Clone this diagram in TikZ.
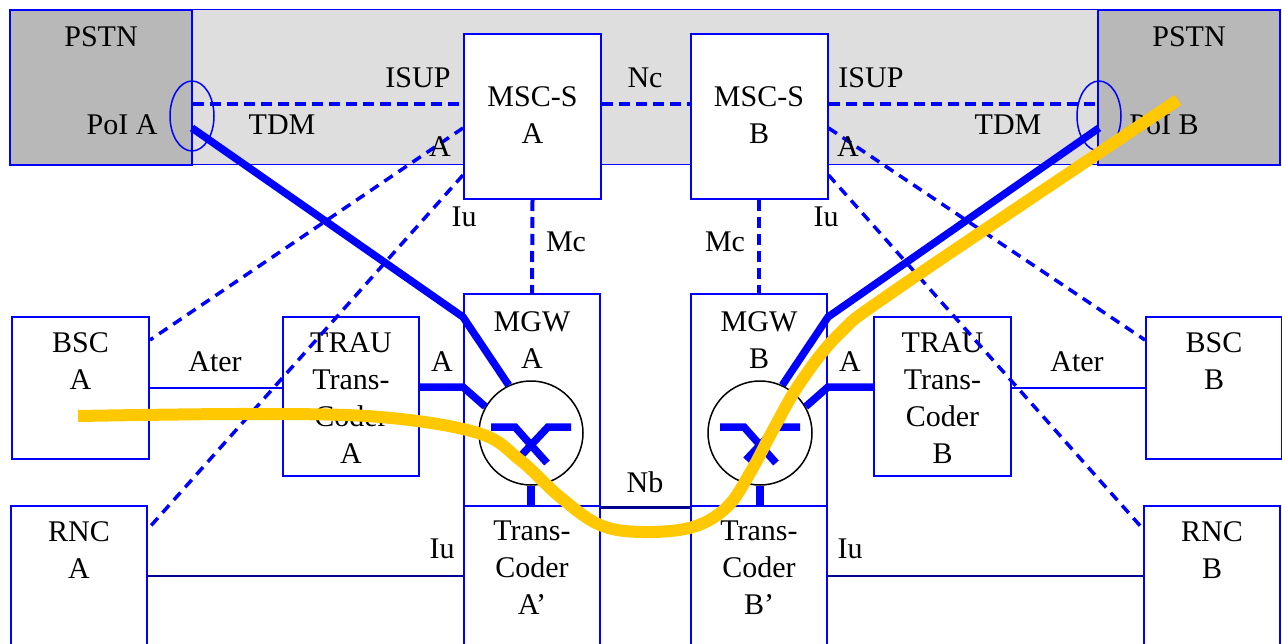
\documentclass[tikz,border=0pt]{standalone}
\usepackage{fontspec}
\setmainfont{Liberation Serif}
\usepackage{tikz}
\usetikzlibrary{shapes,arrows}
\usetikzlibrary{positioning}
\definecolor{calltrace}{RGB}{255,200,0}
\definecolor{darkline}{RGB}{0,0,140}

\begin{document}
\begin{tikzpicture}[x=1pt,y=-1pt,
  box/.style={draw=blue, line width=2pt, fill=white, inner sep=0pt},
  txt/.style={font=\fontsize{30}{37}\selectfont, align=center, inner sep=0pt},
  ctrl/.style={blue, line width=4pt, dash pattern=on 11pt off 6pt},
  ctrlthin/.style={blue, line width=3.5pt, dash pattern=on 10pt off 7pt},
  bus/.style={blue, line width=7.5pt},
  link/.style={blue, line width=2pt},
  trunk/.style={darkline, line width=2.5pt},
  call/.style={calltrace, line width=12pt}]

\useasboundingbox (0,0) rectangle (1282,644);

% core network band and PSTN
\node[draw=blue, line width=1pt, fill=black!13, minimum width=1270, minimum height=155, inner sep=0pt] (core) at (645,87.5) {};
\node[box, fill=black!28, minimum width=182, minimum height=155] (pstnA) at (101,87.5) {};
\node[box, fill=black!28, minimum width=182, minimum height=155] (pstnB) at (1189,87.5) {};
\node[txt, below=17pt of pstnA.north] (pstnAt) {PSTN};
\node[txt, below=17pt of pstnB.north] (pstnBt) {PSTN};
\node[txt, anchor=base] (poiAt) at (122,135) {PoI A};
\node[txt, anchor=base] (poiBt) at (1164,135) {PoI B};
\node[ellipse, draw=blue, line width=1.5pt, minimum width=44, minimum height=70, inner sep=0pt] (poiA) at (192,116) {};
\node[ellipse, draw=blue, line width=1.5pt, minimum width=44, minimum height=70, inner sep=0pt] (poiB) at (1099,116) {};

% servers, gateways and transcoders
\node[box, minimum width=137, minimum height=165] (mscA) at (532.5,116.5) {};
\node[box, minimum width=137, minimum height=165] (mscB) at (759,116.5) {};
\node[box, minimum width=136, minimum height=212] (mgwA) at (532,400) {};
\node[box, minimum width=136, minimum height=212] (mgwB) at (759,400) {};
\node[box, minimum width=136, minimum height=144] (tcA) at (532,578) {};
\node[box, minimum width=136, minimum height=144] (tcB) at (759,578) {};
\node[txt, below=53pt of mscA.north] (mscAt) {MSC-S\\A};
\node[txt, below=53pt of mscB.north] (mscBt) {MSC-S\\B};
\node[txt, below=18pt of mgwA.north] (mgwAt) {MGW\\A};
\node[txt, below=18pt of mgwB.north] (mgwBt) {MGW\\B};
\node[txt, below=16pt of tcA.north] (tcAt) {Trans-\\Coder\\A’};
\node[txt, below=16pt of tcB.north] (tcBt) {Trans-\\Coder\\B’};
\node[circle, draw, line width=1.5pt, minimum size=104, inner sep=0pt] (swA) at (531,433) {};
\node[circle, draw, line width=1.5pt, minimum size=104, inner sep=0pt] (swB) at (760,433) {};

% access side
\node[box, minimum width=137, minimum height=142] (bscA) at (80.5,388) {};
\node[box, minimum width=136, minimum height=142] (bscB) at (1214,388) {};
\node[box, minimum width=136, minimum height=159] (trauA) at (351,396.5) {};
\node[box, minimum width=137, minimum height=159] (trauB) at (942.5,396.5) {};
\node[box, minimum width=136, minimum height=144] (rncA) at (79,578) {};
\node[box, minimum width=136, minimum height=144] (rncB) at (1212,578) {};
\node[txt, below=16pt of bscA.north] (bscAt) {BSC\\A};
\node[txt, below=16pt of bscB.north] (bscBt) {BSC\\B};
\node[txt, below=16pt of trauA.north] (trauAt) {TRAU\\Trans-\\Coder\\A};
\node[txt, below=16pt of trauB.north] (trauBt) {TRAU\\Trans-\\Coder\\B};
\node[txt, below=16pt of rncA.north] (rncAt) {RNC\\A};
\node[txt, below=16pt of rncB.north] (rncBt) {RNC\\B};

% signalling
\coordinate (isup) at ([yshift=12pt]mscA.west);
\draw[ctrl] (isup -| pstnA.east) -- (isup);
\draw[ctrl] (isup -| mscA.east) -- (isup -| mscB.west);
\draw[ctrl] (isup -| mscB.east) -- (isup -| pstnB.west);
\draw[ctrl] (mscA.south) -- (mgwA.north);
\draw[ctrl] (mscB.south) -- (mgwB.north);
\draw[ctrlthin] ([yshift=-11.5pt]mscA.west) -- ([yshift=48pt]bscA.east);
\draw[ctrlthin] ([yshift=-58.5pt]mscA.west) -- ([yshift=49pt]rncA.east);
\draw[ctrlthin] ([yshift=-11.5pt]mscB.east) -- ([yshift=48pt]bscB.west);
\draw[ctrlthin] ([yshift=-58.5pt]mscB.east) -- ([yshift=49pt]rncB.west);

% user plane
\coordinate (aifA) at ([yshift=9.5pt]trauA.east);
\coordinate (aifB) at ([yshift=9.5pt]trauB.west);
\draw[bus] ([yshift=-12pt]poiA.center) -- ([yshift=83pt]mgwA.west) -- (swA.115);
\draw[bus] ([yshift=-12pt]poiB.center) -- ([yshift=83pt]mgwB.east) -- (swB.65);
\draw[bus] (aifA) -- (aifA -| mgwA.west) -- (swA.150);
\draw[bus] (aifB) -- (aifB -| mgwB.east) -- (swB.30);
\draw[bus] (swA.south) -- (swA.south |- mgwA.south);
\draw[bus] (swB.south) -- (swB.south |- mgwB.south);
\draw[bus] ([shift={(-40,-6)}]swA.center) -- ([shift={(-16,-6)}]swA.center) -- ([shift={(16,30)}]swA.center);
\draw[bus] ([shift={(40,-6)}]swA.center) -- ([shift={(17,-6)}]swA.center) -- ([shift={(-14,27)}]swA.center);
\draw[bus] ([shift={(-40,-6)}]swB.center) -- ([shift={(-16,-6)}]swB.center) -- ([shift={(16,30)}]swB.center);
\draw[bus] ([shift={(40,-6)}]swB.center) -- ([shift={(17,-6)}]swB.center) -- ([shift={(-14,27)}]swB.center);
\draw[link] (bscA.east) -- (bscA.east -| trauA.west);
\draw[link] (bscB.west) -- (bscB.west -| trauB.east);
\draw[trunk] ([yshift=2pt]rncA.east) -- ([yshift=2pt]tcA.west |- rncA.east);
\draw[trunk] ([yshift=2pt]rncB.west) -- ([yshift=2pt]tcB.east |- rncB.west);
\draw[trunk, line width=3pt] (mgwA.south east) -- (mgwB.south west);

% interface labels
\node[txt, anchor=base] (isupAl) at (418,88) {ISUP};
\node[txt, anchor=base] (isupBl) at (871,88) {ISUP};
\node[txt, anchor=base] (ncl) at (645,88) {Nc};
\node[txt, anchor=base] (tdmAl) at (282,135) {TDM};
\node[txt, anchor=base] (tdmBl) at (1008,135) {TDM};
\node[txt, anchor=base] (aAl) at (440,157) {A};
\node[txt, anchor=base] (aBl) at (848,157) {A};
\node[txt, anchor=base] (iuAl) at (464,227) {Iu};
\node[txt, anchor=base] (iuBl) at (826,227) {Iu};
\node[txt, anchor=base] (mcAl) at (566,252) {Mc};
\node[txt, anchor=base] (mcBl) at (725,252) {Mc};
\node[txt, anchor=base] (aterAl) at (215,371) {Ater};
\node[txt, anchor=base] (aterBl) at (1077,371) {Ater};
\node[txt, anchor=base] (atAl) at (442,371) {A};
\node[txt, anchor=base] (atBl) at (850,371) {A};
\node[txt, anchor=base] (nbl) at (645,492) {Nb};
\node[txt, anchor=base] (iuAtl) at (442,558) {Iu};
\node[txt, anchor=base] (iuBtl) at (850,558) {Iu};

% call path
\draw[call] plot[smooth, tension=0.6] coordinates {(78,416) (250,414) (380,417) (478,433) (520,460) (560,497) (600,525) (643,532) (693,527) (727,507) (750,473) (773,430) (800,383) (840,333) (900,287) (1178,100)};

\end{tikzpicture}
\end{document}
